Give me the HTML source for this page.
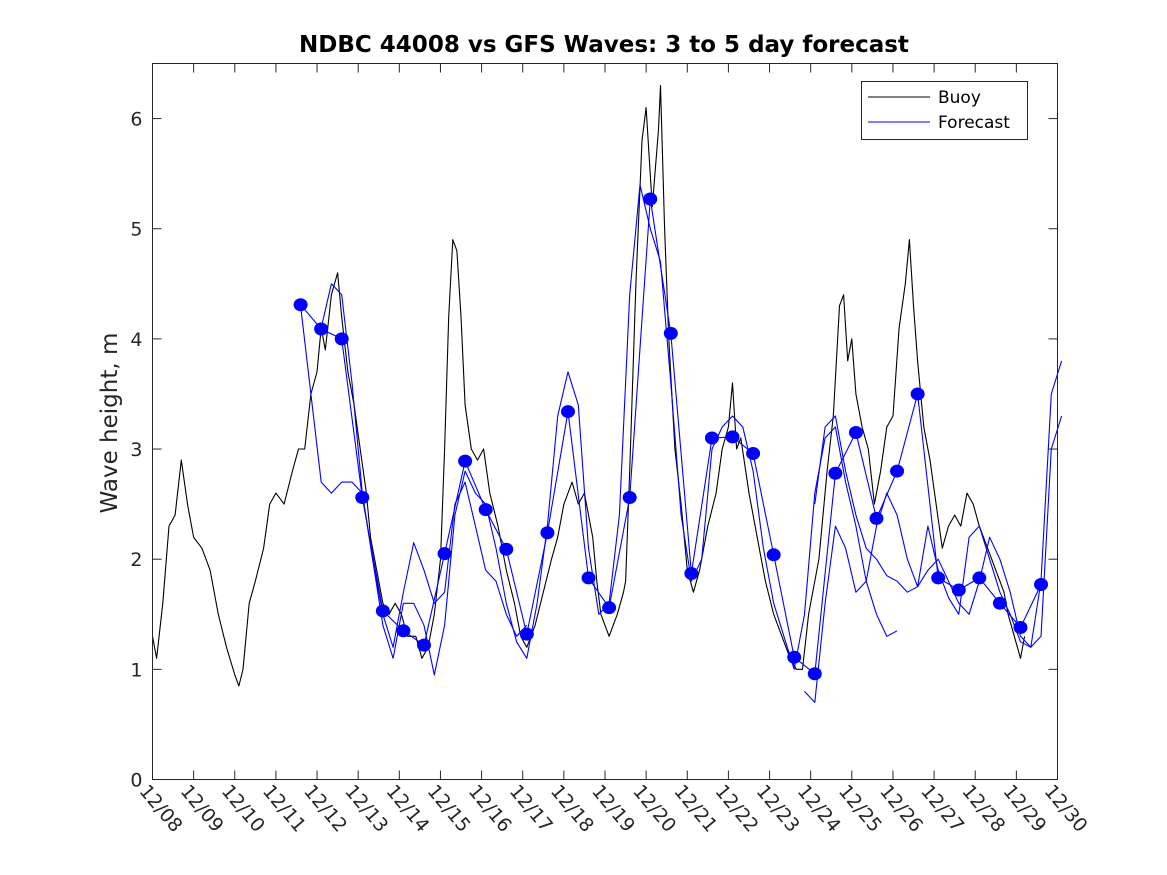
<!DOCTYPE html>
<html><head><meta charset="utf-8"><style>
body{margin:0;background:#fff;}
svg{display:block;font-family:"DejaVu Sans","Liberation Sans",sans-serif;}
</style></head><body>
<svg id="chart" width="1167" height="875">
<rect x="0" y="0" width="1167" height="875" fill="#fff"/>
<text x="604" y="52" text-anchor="middle" font-size="23" font-weight="bold">NDBC 44008 vs GFS Waves: 3 to 5 day forecast</text>
<text transform="translate(117,423) rotate(-90)" text-anchor="middle" font-size="23" fill="#262626">Wave height, m</text>
<g id="axes"></g>
<g id="series"></g>
<rect x="152.5" y="63.5" width="905" height="716" fill="none" stroke="#262626" stroke-width="1"/>
<g>
<rect x="861.5" y="81.5" width="166" height="58" fill="#fff" stroke="#262626"/>
<line x1="868" y1="97" x2="930" y2="97" stroke="#000"/>
<text x="938" y="103" font-size="17">Buoy</text>
<line x1="868" y1="122" x2="930" y2="122" stroke="#00f"/>
<text x="938" y="128" font-size="17">Forecast</text>
</g>
</svg>
<script>
const yTicks=[0,1,2,3,4,5,6];
const xTickLabels=["12/08","12/09","12/10","12/11","12/12","12/13","12/14","12/15","12/16","12/17","12/18","12/19","12/20","12/21","12/22","12/23","12/24","12/25","12/26","12/27","12/28","12/29","12/30"];
const buoyDays=[0,0.1,0.25,0.4,0.55,0.7,0.85,1.0,1.2,1.4,1.6,1.8,2.0,2.1,2.2,2.35,2.5,2.7,2.85,3.0,3.2,3.4,3.55,3.7,3.85,4.0,4.1,4.2,4.35,4.5,4.6,4.75,4.9,5.05,5.2,5.3,5.45,5.6,5.75,5.9,6.05,6.2,6.4,6.55,6.7,6.85,7.0,7.1,7.2,7.3,7.4,7.5,7.6,7.75,7.9,8.05,8.2,8.4,8.6,8.8,8.95,9.1,9.3,9.5,9.7,9.85,10.0,10.2,10.35,10.5,10.7,10.8,10.9,11.1,11.3,11.45,11.5,11.6,11.75,11.9,12.0,12.15,12.3,12.35,12.45,12.55,12.7,12.85,13.0,13.15,13.3,13.5,13.7,13.85,14.0,14.1,14.2,14.3,14.5,14.7,14.9,15.1,15.3,15.5,15.65,15.8,15.95,16.2,16.4,16.55,16.7,16.8,16.9,17.0,17.1,17.25,17.4,17.55,17.7,17.85,18.0,18.15,18.3,18.4,18.5,18.6,18.75,18.9,19.05,19.2,19.35,19.5,19.65,19.8,19.95,20.1,20.3,20.5,20.7,20.8,20.95,21.1,21.2];
const buoyValues=[1.3,1.1,1.6,2.3,2.4,2.9,2.5,2.2,2.1,1.9,1.5,1.2,0.95,0.85,1.0,1.6,1.8,2.1,2.5,2.6,2.5,2.8,3.0,3.0,3.5,3.7,4.1,3.9,4.4,4.6,4.2,3.7,3.4,3.0,2.6,2.2,1.9,1.6,1.5,1.6,1.5,1.3,1.3,1.1,1.2,1.5,2.0,3.0,4.2,4.9,4.8,4.2,3.4,3.0,2.9,3.0,2.6,2.3,1.9,1.6,1.3,1.2,1.4,1.7,2.0,2.2,2.5,2.7,2.5,2.6,2.2,1.8,1.5,1.3,1.5,1.7,1.8,2.8,4.5,5.8,6.1,5.2,5.9,6.3,5.0,4.0,3.0,2.5,1.9,1.7,1.9,2.3,2.6,3.0,3.2,3.6,3.0,3.1,2.6,2.2,1.8,1.5,1.3,1.1,1.0,1.0,1.5,2.0,2.8,3.3,4.3,4.4,3.8,4.0,3.5,3.2,3.0,2.5,2.8,3.2,3.3,4.1,4.5,4.9,4.3,3.8,3.2,2.9,2.5,2.1,2.3,2.4,2.3,2.6,2.5,2.3,2.1,1.9,1.7,1.5,1.3,1.1,1.3];
const dotStart=3.6;
const dotValues=[4.31,4.09,4.0,2.56,1.53,1.35,1.22,2.05,2.89,2.45,2.09,1.32,2.24,3.34,1.83,1.56,2.56,5.27,4.05,1.87,3.1,3.11,2.96,2.04,1.11,0.96,2.78,3.15,2.37,2.8,3.5,1.83,1.72,1.83,1.6,1.38,1.77];
const fcA_start=3.6;
const fcA=[4.3,3.5,2.7,2.6,2.7,2.7,2.6,2.0,1.5,1.2,1.7,2.15,1.9,1.6,1.7,2.5,2.7,2.3,1.9,1.8,1.5,1.3,1.4];
const fcB_start=4.1;
const fcB=[4.1,4.5,4.4,3.6,2.6,2.0,1.4,1.1,1.6,1.6,1.4,0.95,1.4,2.4,2.8,2.6,2.5,2.1,1.6,1.25,1.1,1.6,2.3,3.3,3.7,3.4,2.1,1.5,1.6,2.4,4.4,5.4,5.0,4.7,3.6,2.4,1.8,2.0,3.0,3.2,3.3,3.2,2.8,2.1,1.6,1.3,1.0,1.5,2.6,3.1,3.2,2.7,2.3,1.8,1.5,1.3,1.35];
const fcC_start=15.85;
const fcC=[0.8,0.7,1.6,2.3,2.1,1.7,1.8,2.3,2.6,2.4,2.0,1.75,1.9,2.0,1.8,1.6,1.5,1.8,2.2,2.0,1.7,1.3,1.2,1.3,3.0,3.3];
const fcD_start=16.1;
const fcD=[2.5,3.2,3.3,2.8,2.4,2.1,2.0,1.85,1.8,1.7,1.75,2.3,1.9,1.65,1.5,2.2,2.3,2.0,1.7,1.5,1.25,1.2,1.8,3.5,3.8];
const fcStep=0.25;

const X0=152.5,X1=1057.5,Y0=779.5,Y1=63.5,DAYS=22,YMAX=6.5;
function xs(d){return X0+(X1-X0)*d/DAYS;}
function ys(v){return Y0-(Y0-Y1)*v/YMAX;}
const NS="http://www.w3.org/2000/svg";
const axes=document.getElementById('axes'),ser=document.getElementById('series');
function mk(t,a,p){const e=document.createElementNS(NS,t);for(const k in a)e.setAttribute(k,a[k]);p.appendChild(e);return e;}
yTicks.forEach(v=>{
  const y=ys(v);
  let l=mk('line',{x1:X0,y1:y,x2:X0+9,y2:y,stroke:'#262626'},axes);
  
  
  let r=mk('line',{x1:X1-9,y1:y,x2:X1,y2:y,stroke:'#262626'},axes);
  
  
  let t=mk('text',{x:X0-10,y:y+7,'text-anchor':'end','font-size':'19',fill:'#262626'},axes);
  t.textContent=v;
  
  
});
xTickLabels.forEach((s,i)=>{
  const x=xs(i);
  let l=mk('line',{x1:x,y1:Y0,x2:x,y2:Y0-9,stroke:'#262626'},axes);
  
  
  let l2=mk('line',{x1:x,y1:Y1,x2:x,y2:Y1+9,stroke:'#262626'},axes);
  
  
  let t=mk('text',{x:0,y:0,'font-size':'19',fill:'#262626',transform:`translate(${x-14},${Y0+12}) rotate(50)`},axes);
  t.textContent=s;
  
  
});
function line(pts,color,w,name){
  let p=mk('polyline',{points:pts.map(q=>q[0].toFixed(1)+','+q[1].toFixed(1)).join(' '),fill:'none',stroke:color,'stroke-width':w,'stroke-linejoin':'round'},ser);
  
  
}
function fc(start,vals,name){line(vals.map((v,i)=>[xs(start+i*fcStep),ys(v)]),'#00f',1.1,name);}
line(buoyDays.map((d,i)=>[xs(d),ys(buoyValues[i])]),'#000',1.1,'buoy-line');
fc(fcA_start,fcA,'forecast-line-a');
fc(fcB_start,fcB,'forecast-line-b');
fc(fcC_start,fcC,'forecast-line-c');
fc(fcD_start,fcD,'forecast-line-d');
line(dotValues.map((v,i)=>[xs(dotStart+i*0.5),ys(v)]),'#00f',1.1,'forecast-line-main');
dotValues.forEach((v,i)=>{
  let c=mk('ellipse',{cx:xs(dotStart+i*0.5),cy:ys(v),rx:7,ry:6.5,fill:'#00f'},ser);
  
  
});
</script>
</body></html>
